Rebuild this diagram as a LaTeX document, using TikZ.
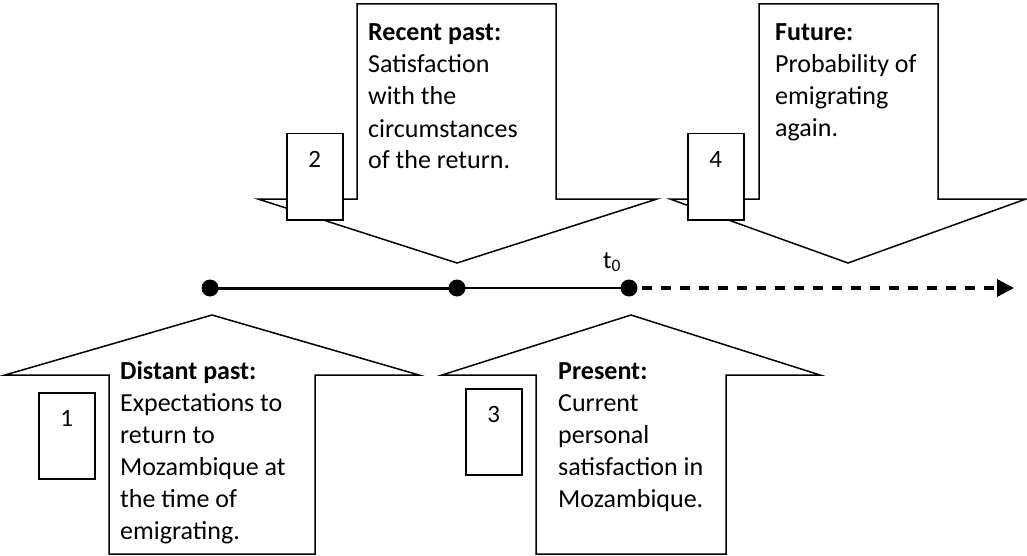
\documentclass[tikz,border=0pt]{standalone}
\usepackage{fontspec}
\setmainfont{Carlito}
\usetikzlibrary{arrows.meta, positioning}

\begin{document}
\begin{tikzpicture}[x=1pt, y=-1pt,
    blockarrow/.style={draw=black, fill=white, line width=1.5pt, line join=miter},
    numbox/.style={draw=black, fill=white, line width=1.5pt, inner sep=0pt, anchor=north west,
      text width=56pt, align=center, text height=34pt, text depth=52pt, font=\fontsize{25}{28}\selectfont},
    phase/.style={anchor=base west, inner sep=0pt, align=left, font=\fontsize{26}{32}\selectfont},
    tdot/.style={circle, fill=black, inner sep=0pt, minimum size=17pt}]
  \useasboundingbox (0,0) rectangle (1027,556);

  % Flecha 1: pasado lejano (base = ultima linea)
  \draw[blockarrow] (109,554) -- (109,375) -- (5,375) -- (212,315) -- (419,375) -- (315,375) -- (315,554) -- cycle;
  \node[phase] (distant) at (120,539) {\textbf{Distant past:}\\Expectations to\\return to\\Mozambique at\\the time of\\emigrating.};
  \node[numbox] (n1) at (38,392) {1};

  % Flecha 2: pasado reciente
  \draw[blockarrow] (357,4) -- (556,4) -- (556,199) -- (657,199) -- (457,263) -- (258,199) -- (357,199) -- cycle;
  \node[phase] (recent) at (368,169) {\textbf{Recent past:}\\Satisfaction\\with the\\circumstances\\of the return.};
  \node[numbox] (n2) at (286,133) {2};

  % Flecha 3: presente
  \draw[blockarrow] (536,554) -- (536,375) -- (442,375) -- (631,315) -- (820,375) -- (726,375) -- (726,554) -- cycle;
  \node[phase] (present) at (558,507) {\textbf{Present:}\\Current\\personal\\satisfaction in\\Mozambique.};
  \node[numbox] (n3) at (465,388) {3};

  % Flecha 4: futuro
  \draw[blockarrow] (759,4) -- (938,4) -- (938,199) -- (1026,199) -- (848,263) -- (670,199) -- (759,199) -- cycle;
  \node[phase] (future) at (775,137) {\textbf{Future:}\\Probability of\\emigrating\\again.};
  \node[numbox] (n4) at (687,133) {4};

  % Linea de tiempo
  \node[tdot] (p1) at (210,288) {};
  \node[tdot] (p2) at (457,288) {};
  \node[tdot] (p3) at (629,288) {};
  \coordinate (tend) at (1014,288);
  \draw[line width=3pt] (p1.center) -- (p2.center);
  \draw[line width=1.5pt] (p2.center) -- (p3.center);
  \draw[line width=3.2pt, dash pattern=on 10pt off 9pt, -{Triangle[length=17pt, width=17pt]}] (p3.east) ++(4pt,0) -- (tend);
  \node[anchor=base west, inner sep=0pt, font=\fontsize{25}{28}\selectfont] (t0) at (603,268) {t\textsubscript{0}};
\end{tikzpicture}
\end{document}
